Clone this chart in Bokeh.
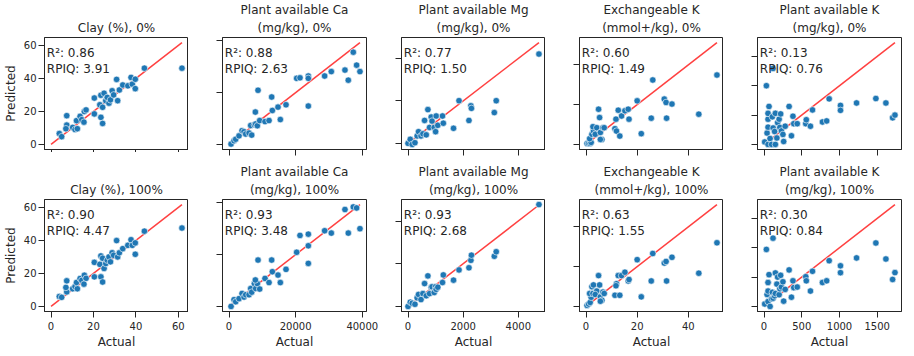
from bokeh.plotting import figure
from bokeh.layouts import column, row
from bokeh.models import Range1d, FixedTicker, Label, Title
from bokeh.embed import file_html
from bokeh.resources import INLINE

# ---------------- data ----------------
title_line1 = ["", "Plant available Ca", "Plant available Mg", "Exchangeable K", "Plant available K"]
title_line2 = ["Clay (%)", "(mg/kg)", "(mg/kg)", "(mmol+/kg)", "(mg/kg)"]
scenarios = ["0%", "100%"]

r2_0 = [0.86, 0.88, 0.77, 0.60, 0.13]
rpiq_0 = [3.91, 2.63, 1.50, 1.49, 0.76]
r2_100 = [0.90, 0.93, 0.93, 0.63, 0.30]
rpiq_100 = [4.47, 3.48, 2.68, 1.55, 0.84]

ticks_clay = [0, 20, 40, 60]
ticks_ca = [0, 20000, 40000]
ticks_mg = [0, 2000, 4000]
ticks_exk = [0, 20, 40]
ticks_k = [0, 500, 1000, 1500]

clay_actual = [3.9, 5.0, 7.4, 7.4, 7.0, 10.2, 11.3, 12.4, 12.0, 13.7, 14.5, 15.7, 16.5, 15.5, 20.4, 20.4, 23.0, 23.5, 23.5, 24.3,
               24.3, 25.0, 25.8, 26.5, 27.3, 28.0, 28.8, 29.5, 30.9, 31.4, 32.2, 33.8, 36.2, 37.7, 38.3, 39.7, 39.7, 44.0, 61.7]
clay_pred_0 = [6.6, 4.7, 17.4, 11.7, 9.5, 10.3, 9.0, 9.5, 14.4, 17.0, 15.0, 19.9, 20.9, 13.5, 28.1, 18.5, 24.0, 29.8, 16.4, 12.7,
               22.5, 31.0, 26.5, 28.5, 25.0, 27.0, 32.5, 30.0, 39.4, 26.5, 33.0, 36.0, 35.5, 40.6, 36.5, 39.5, 33.8, 46.2, 46.2]
clay_pred_100 = [6.0, 5.5, 15.5, 8.8, 11.5, 10.7, 12.0, 10.7, 14.5, 16.9, 15.8, 18.9, 17.0, 13.5, 26.7, 17.9, 25.5, 30.6, 17.9, 14.8,
                 29.2, 23.0, 26.0, 28.0, 30.0, 27.0, 32.5, 31.0, 39.9, 30.0, 32.5, 35.0, 37.0, 40.4, 37.0, 38.5, 31.6, 45.6, 47.5]

ca_actual = [600, 1500, 2000, 3000, 3900, 4500, 5000, 6000, 6500, 6800, 7600, 8000, 8500, 7900, 8700, 9200, 10800, 12000,
             12800, 13000, 14700, 15400, 17100, 20300, 21300, 23800, 23800, 23800, 28700, 30700, 34800, 35800, 37300, 38300, 39300]
ca_pred_0 = [130, 1400, 2000, 3300, 5300, 4900, 4000, 4400, 7300, 3600, 7600, 7900, 7200, 12500, 20900, 9200, 8800, 9200,
             18300, 13100, 14400, 9600, 15300, 25500, 25700, 26400, 25500, 14800, 26400, 28100, 28700, 24800, 35600, 30600, 28100]
ca_pred_100 = [0, 2600, 1800, 3000, 5000, 3600, 4500, 4500, 6900, 5500, 8800, 6900, 8800, 10200, 17900, 6700, 10800, 9200,
               17900, 13400, 12100, 9200, 14300, 20900, 27400, 27900, 23400, 16600, 29200, 28300, 37400, 28300, 38400, 38000, 30000]

mg_actual = [0, 80, 150, 250, 330, 380, 470, 540, 600, 660, 720, 780, 840, 870, 950, 1000, 1020, 1080, 1250, 1280,
             1650, 1850, 2210, 2280, 2300, 3130, 3200, 4750]
mg_pred_0 = [0, 190, -50, 30, 350, 550, 350, 450, 1080, 400, 1590, 750, 1240, 1050, 750, 550, 1290, 850, 1290, 950,
             710, 2010, 1080, 1770, 1650, 1450, 2010, 4210]
mg_pred_100 = [0, 200, 150, 100, 400, 560, 320, 600, 1070, 500, 1430, 600, 900, 920, 650, 920, 800, 900, 1120, 1475,
               1230, 1710, 1810, 2160, 2400, 2350, 2560, 4770]

exk_actual = [0.4, 1.0, 1.6, 2.0, 1.4, 2.3, 2.9, 2.7, 4.2, 4.9, 5.3, 3.6, 5.6, 6.2, 6.6, 7.1, 5.6, 11.3, 11.9, 11.7,
              12.6, 13.2, 13.9, 15.2, 16.5, 16.8, 20.0, 21.6, 25.5, 26.1, 30.6, 31.3, 31.5, 33.6, 44.1, 51.2]
exk_pred_0 = [0.5, 0.5, 0.5, 1.0, 2.9, 5.1, 6.8, 8.9, 8.4, 17.7, 13.5, 5.1, 6.0, 2.5, 8.4, 8.4, 2.5, 7.9, 6.7, 12.7,
              17.2, 4.2, 14.3, 16.9, 17.7, 12.7, 21.9, 5.4, 13.2, 32.4, 22.8, 21.1, 13.2, 20.3, 15.2, 34.9]
exk_pred_100 = [0.5, 1.2, 2.0, 4.6, 6.5, 9.9, 10.8, 6.5, 7.7, 15.5, 10.8, 6.0, 4.8, 3.1, 7.2, 6.5, 2.6, 5.6, 11.4, 10.4,
                15.5, 5.6, 15.5, 17.2, 12.8, 13.5, 23.5, 4.8, 12.8, 26.6, 21.8, 22.6, 12.8, 24.7, 16.7, 32.0]

k_actual = [9, 40, 53, 31, 119, 53, 66, 53, 53, 80, 100, 110, 120, 140, 150, 150, 170, 180, 200, 210,
            220, 230, 250, 260, 280, 332, 363, 383, 394, 440, 553, 560, 615, 642, 774, 830, 863, 1013, 1013, 1226,
            1482, 1615, 1704, 1735]
k_pred_0 = [41, 194, 0, 1000, 1294, 294, 647, 429, 529, 100, 0, 470, 280, 220, 0, 530, 110, 370, 430, 290,
            520, 230, 170, 50, 310, 647, 147, 480, 353, 353, 353, 420, 310, 588, 382, 400, 776, 665, 580, 706,
            782, 706, 453, 500]
k_pred_100 = [41, 203, 407, 971, 1163, 82, 541, 262, 407, 0, 130, 240, 140, 180, 220, 570, 380, 500, 200, 300,
              530, 330, 420, 90, 290, 622, 157, 436, 320, 330, 506, 436, 262, 599, 407, 436, 779, 692, 575, 826,
              1081, 808, 459, 576]

actuals = [clay_actual, ca_actual, mg_actual, exk_actual, k_actual]
preds = [[clay_pred_0, ca_pred_0, mg_pred_0, exk_pred_0, k_pred_0],
         [clay_pred_100, ca_pred_100, mg_pred_100, exk_pred_100, k_pred_100]]
r2s = [r2_0, r2_100]
rpiqs = [rpiq_0, rpiq_100]
ticks = [ticks_clay, ticks_ca, ticks_mg, ticks_exk, ticks_k]

# ---------------- style ----------------
FONT = "DejaVu Sans"
TXT = "#262626"
DOT = "#1f77b4"
FW, FH = 144, 112
border_left = [40, 34, 21, 34, 34]
border_right = [0, 14, 0, 0, 1]
border_top = [31, 41]
border_bottom = [9, 35]


def padded(lo, hi, frac=0.05):
    d = (hi - lo) * frac
    return lo - d, hi + d


def hide_labels(ax):
    ax.major_label_text_font_size = "0px"
    ax.major_label_text_color = None
    ax.major_label_standoff = 0


def make_panel(r, c):
    act = actuals[c]
    pr = preds[r][c]
    amax = max(act)
    x0, x1 = padded(min(0, min(act)), amax)
    y0, y1 = padded(min(0, min(pr)), max(amax, max(pr)))

    p = figure(frame_width=FW, frame_height=FH,
               x_range=Range1d(x0, x1), y_range=Range1d(y0, y1),
               output_backend="svg", toolbar_location=None,
               min_border_left=border_left[c], min_border_right=border_right[c],
               min_border_top=border_top[r], min_border_bottom=border_bottom[r],
               background_fill_color="white", border_fill_color="white",
               outline_line_color=TXT, outline_line_width=1)
    p.xgrid.visible = False
    p.ygrid.visible = False

    p.line([0, amax], [0, amax], line_color="red", line_alpha=0.75, line_width=1.5)
    p.scatter(act, pr, size=6.5, fill_color=DOT, line_color="white", line_width=0.6)

    for ax in (p.xaxis[0], p.yaxis[0]):
        ax.axis_line_color = TXT
        ax.major_tick_line_color = TXT
        ax.major_tick_out = 6
        ax.major_tick_in = 0
        ax.minor_tick_line_color = None
        ax.major_label_text_font = FONT
        ax.major_label_text_font_size = "10px"
        ax.major_label_text_color = TXT
        ax.axis_label_text_font = FONT
        ax.axis_label_text_font_size = "12px"
        ax.axis_label_text_font_style = "normal"
        ax.axis_label_text_color = TXT
    p.xaxis[0].major_label_standoff = 4
    p.xaxis[0].axis_label_standoff = 2
    p.yaxis[0].major_label_standoff = 2
    p.yaxis[0].axis_label_standoff = 3
    p.xaxis[0].ticker = FixedTicker(ticks=ticks[c])
    p.yaxis[0].ticker = FixedTicker(ticks=ticks[c])

    if r == 1:
        p.xaxis[0].axis_label = "Actual"
    else:
        hide_labels(p.xaxis[0])
    if c == 0:
        p.yaxis[0].axis_label = "Predicted"
    else:
        hide_labels(p.yaxis[0])

    # titles
    near = title_line2[c] + ", " + scenarios[r]
    if title_line1[c]:
        p.title.text = title_line1[c]
        p.title.text_font = FONT
        p.title.text_font_size = "12px"
        p.title.text_font_style = "normal"
        p.title.text_color = TXT
        p.title.align = "center"
        p.title.standoff = 0
    else:
        p.title.visible = False
    p.add_layout(Title(text=near, text_font=FONT, text_font_size="12px", text_font_style="normal",
                       text_color=TXT, align="center", standoff=5), "above")

    # metric annotations
    lx = x0 + 0.016 * (x1 - x0)
    p.add_layout(Label(x=lx, y=y1 - 0.134 * (y1 - y0), text="R²: %.2f" % r2s[r][c],
                       text_font=FONT, text_font_size="12px", text_color=TXT,
                       text_baseline="middle", text_align="left"))
    p.add_layout(Label(x=lx, y=y1 - 0.277 * (y1 - y0), text="RPIQ: %.2f" % rpiqs[r][c],
                       text_font=FONT, text_font_size="12px", text_color=TXT,
                       text_baseline="middle", text_align="left"))
    return p


rows = [row(*[make_panel(r, c) for c in range(5)], spacing=0) for r in range(2)]
layout = column(*rows, spacing=0)

open("out.html", "w").write(file_html(layout, INLINE))
